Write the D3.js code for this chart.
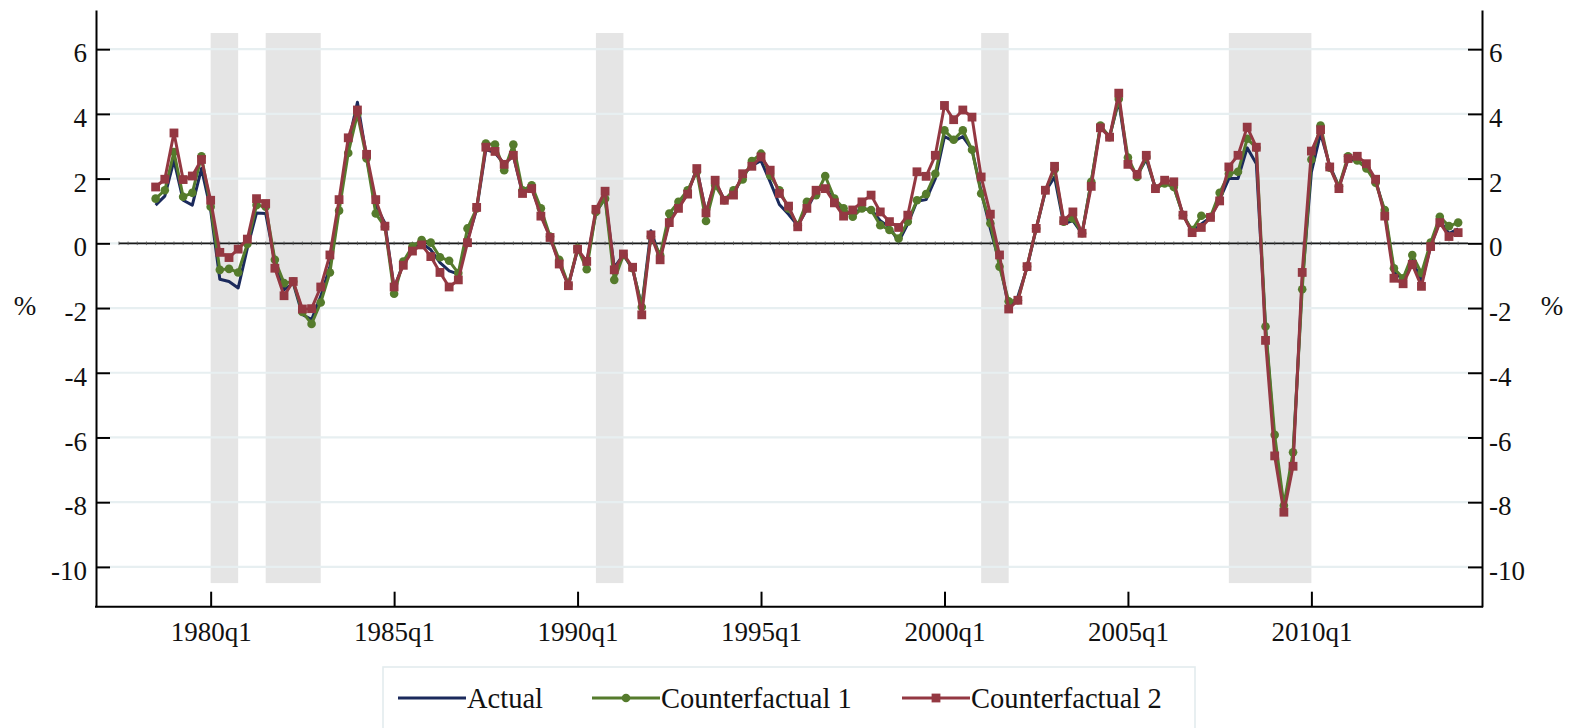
<!DOCTYPE html>
<html>
<head>
<meta charset="utf-8">
<script src="https://cdn.jsdelivr.net/npm/d3@7"></script>
<style>
  html, body { margin: 0; padding: 0; background: #ffffff; }
  svg { display: block; }
  text { font-family: "Liberation Serif", "DejaVu Serif", serif; fill: #111; }
</style>
</head>
<body>
<svg id="chart" width="1575" height="728"></svg>
<script>
// ---------------- DATA ----------------
const startQuarter = "1978q3";

const actual = [
  1.18, 1.46, 2.56, 1.33, 1.18, 2.31, 1.03, -1.11, -1.18, -1.38,
  -0.15, 0.94, 0.92, -0.56, -1.44, -1.23, -2.20, -2.36, -1.64, -0.72,
  1.13, 3.08, 4.36, 2.65, 1.18, 0.62, -1.40, -0.62, -0.15, 0.00,
  -0.20, -0.60, -0.85, -0.95, 0.10, 1.05, 2.90, 2.80, 2.45, 2.70,
  1.55, 1.70, 0.90, 0.20, -0.60, -1.30, -0.20, -0.60, 0.95, 1.40,
  -0.75, -0.35, -0.80, -1.95, 0.39, -0.45, 0.70, 1.10, 1.55, 2.30,
  0.95, 1.90, 1.35, 1.50, 2.10, 2.40, 2.55, 1.90, 1.20, 0.90,
  0.55, 1.05, 1.60, 1.75, 1.30, 0.90, 0.95, 1.05, 1.05, 0.70,
  0.50, 0.05, 0.60, 1.30, 1.35, 2.00, 3.30, 3.15, 3.30, 2.90,
  1.60, 0.45, -0.60, -1.95, -1.65, -0.75, 0.45, 1.60, 2.05, 0.60,
  0.70, 0.30, 1.90, 3.60, 3.30, 4.40, 2.50, 2.10, 2.60, 1.70,
  1.85, 1.75, 0.90, 0.35, 0.60, 0.80, 1.35, 2.00, 2.00, 2.95,
  2.46, -2.60, -6.20, -8.20, -6.60, -1.20, 2.20, 3.40, 2.40, 1.75,
  2.60, 2.55, 2.35, 1.95, 0.95, -0.90, -1.10, -0.50, -1.20, -0.10,
  0.70, 0.30, 0.45
];

const counterfactual1 = [
  1.38, 1.64, 2.82, 1.44, 1.56, 2.69, 1.13, -0.82, -0.79, -0.90,
  -0.02, 1.18, 1.13, -0.51, -1.23, -1.18, -2.12, -2.49, -1.83, -0.90,
  1.01, 2.79, 4.00, 2.62, 0.92, 0.51, -1.56, -0.56, -0.10, 0.10,
  0.02, -0.43, -0.54, -0.92, 0.46, 1.08, 3.08, 3.05, 2.26, 3.05,
  1.64, 1.79, 1.08, 0.21, -0.51, -1.28, -0.15, -0.80, 0.97, 1.38,
  -1.13, -0.36, -0.77, -1.97, 0.21, -0.36, 0.92, 1.28, 1.64, 2.21,
  0.69, 1.79, 1.33, 1.64, 1.97, 2.54, 2.77, 2.10, 1.64, 1.08,
  0.56, 1.28, 1.49, 2.08, 1.38, 1.08, 0.82, 1.08, 1.03, 0.56,
  0.41, 0.15, 0.67, 1.33, 1.52, 2.15, 3.49, 3.20, 3.49, 2.89,
  1.54, 0.62, -0.72, -1.79, -1.76, -0.72, 0.46, 1.64, 2.28, 0.67,
  0.77, 0.31, 1.90, 3.64, 3.28, 4.46, 2.65, 2.05, 2.67, 1.69,
  1.85, 1.74, 0.87, 0.41, 0.85, 0.82, 1.56, 2.15, 2.21, 3.23,
  2.95, -2.57, -5.92, -8.10, -6.46, -1.42, 2.59, 3.64, 2.34, 1.76,
  2.69, 2.56, 2.31, 1.87, 1.03, -0.77, -1.08, -0.36, -0.92, 0.02,
  0.82, 0.53, 0.64
];

const counterfactual2 = [
  1.74, 1.98, 3.41, 1.97, 2.08, 2.59, 1.33, -0.28, -0.44, -0.18,
  0.13, 1.38, 1.23, -0.77, -1.62, -1.18, -2.03, -2.02, -1.35, -0.36,
  1.35, 3.26, 4.12, 2.75, 1.35, 0.53, -1.35, -0.68, -0.24, -0.05,
  -0.41, -0.90, -1.35, -1.13, 0.02, 1.11, 2.97, 2.84, 2.44, 2.72,
  1.54, 1.69, 0.84, 0.18, -0.64, -1.31, -0.18, -0.56, 1.05, 1.61,
  -0.82, -0.33, -0.74, -2.21, 0.26, -0.51, 0.64, 1.08, 1.52, 2.31,
  0.94, 1.95, 1.33, 1.49, 2.15, 2.38, 2.67, 2.26, 1.54, 1.15,
  0.51, 1.08, 1.64, 1.69, 1.25, 0.84, 1.03, 1.28, 1.49, 0.97,
  0.67, 0.49, 0.87, 2.21, 2.07, 2.72, 4.26, 3.82, 4.12, 3.90,
  2.05, 0.90, -0.36, -2.03, -1.76, -0.72, 0.46, 1.64, 2.38, 0.70,
  0.97, 0.31, 1.76, 3.57, 3.28, 4.64, 2.44, 2.13, 2.72, 1.69,
  1.95, 1.90, 0.87, 0.33, 0.49, 0.80, 1.31, 2.36, 2.72, 3.59,
  2.97, -3.00, -6.57, -8.31, -6.89, -0.90, 2.85, 3.51, 2.36, 1.69,
  2.62, 2.69, 2.46, 1.98, 0.84, -1.08, -1.25, -0.65, -1.33, -0.10,
  0.64, 0.21, 0.33
];

const recessions = [
  ["1980q1", "1980q4"],
  ["1981q3", "1983q1"],
  ["1990q3", "1991q2"],
  ["2001q1", "2001q4"],
  ["2007q4", "2010q1"]
];

const xTickLabels = ["1980q1", "1985q1", "1990q1", "1995q1", "2000q1", "2005q1", "2010q1"];
const yTickValues = [-10, -8, -6, -4, -2, 0, 2, 4, 6];
const zeroLineRange = ["1977q3", "2014q1"];

const seriesNames = ["Actual", "Counterfactual 1", "Counterfactual 2"];
const seriesColors = ["#1b2a5c", "#557b2c", "#943842"];

// ---------------- HELPERS ----------------
function qIndex(s) {
  const [y, q] = s.split("q");
  return (+y) * 4 + (+q - 1);
}
const q0 = qIndex(startQuarter);
const idx = actual.map((d, i) => q0 + i);

// ---------------- SCALES ----------------
const svg = d3.select("#chart");
const x = d3.scaleLinear()
  .domain([qIndex("1980q1") - 12.5, qIndex("2010q1") + 18.6])
  .range([96, 1482]);
const y = d3.scaleLinear()
  .domain([-11.23, 7.21])
  .range([606.7, 10]);

// ---------------- SHADING ----------------
svg.append("g").selectAll("rect")
  .data(recessions)
  .join("rect")
  .attr("x", d => x(qIndex(d[0])))
  .attr("width", d => x(qIndex(d[1])) - x(qIndex(d[0])))
  .attr("y", y(6.5))
  .attr("height", y(-10.5) - y(6.5))
  .attr("fill", "#e5e5e5");

// ---------------- GRID ----------------
svg.append("g").selectAll("line")
  .data(yTickValues)
  .join("line")
  .attr("x1", 110).attr("x2", 1468)
  .attr("y1", d => y(d)).attr("y2", d => y(d))
  .attr("stroke", "#e7eff1")
  .attr("stroke-width", 2.2);

// ---------------- ZERO LINE ----------------
const zStart = qIndex(zeroLineRange[0]), zEnd = qIndex(zeroLineRange[1]);
svg.append("line")
  .attr("x1", x(zStart)).attr("x2", 1468)
  .attr("y1", y(0)).attr("y2", y(0))
  .attr("stroke", "#1a1a1a").attr("stroke-width", 1.8);
svg.append("g").selectAll("line")
  .data(d3.range(zStart, zEnd + 1))
  .join("line")
  .attr("x1", d => x(d)).attr("x2", d => x(d))
  .attr("y1", y(0) - 1.8).attr("y2", y(0) + 1.8)
  .attr("stroke", "#555").attr("stroke-width", 0.8);

// ---------------- AXES ----------------
const yAxisL = d3.axisLeft(y).tickValues(yTickValues).tickSize(-14).tickSizeOuter(0).tickPadding(9)
  .tickFormat(d => d3.format("d")(d).replace("−", "-"));
const gL = svg.append("g").attr("transform", "translate(96,0)").call(yAxisL);
const yAxisR = d3.axisRight(y).tickValues(yTickValues).tickSize(-14).tickSizeOuter(0).tickPadding(7)
  .tickFormat(d => d3.format("d")(d).replace("−", "-"));
const gR = svg.append("g").attr("transform", "translate(1482,0)").call(yAxisR);
const xAxis = d3.axisBottom(x).tickValues(xTickLabels.map(qIndex)).tickSize(-15).tickSizeOuter(0).tickPadding(15)
  .tickFormat((d, i) => xTickLabels[i]);
const gB = svg.append("g").attr("transform", "translate(0,606.7)").call(xAxis);

[gL, gR, gB].forEach(g => {
  g.select(".domain").attr("stroke", "#000").attr("stroke-width", 2);
  g.selectAll(".tick line").attr("stroke", "#000").attr("stroke-width", 2);
  g.selectAll(".tick text")
    .attr("font-family", "'Liberation Serif', serif")
    .attr("font-size", 27)
    .attr("fill", "#111");
});
gL.selectAll(".tick text").attr("y", 4);
gR.selectAll(".tick text").attr("y", 4);
gB.select(".domain").attr("d", "M95,0H1483");

// y axis titles
svg.append("text").attr("x", 25).attr("y", 306).attr("text-anchor", "middle")
  .attr("dominant-baseline", "central").attr("font-size", 27).text("%");
svg.append("text").attr("x", 1552).attr("y", 306).attr("text-anchor", "middle")
  .attr("dominant-baseline", "central").attr("font-size", 27).text("%");

// ---------------- SERIES ----------------
const line = d3.line().x((d, i) => x(idx[i])).y(d => y(d));
const allSeries = [actual, counterfactual1, counterfactual2];

allSeries.forEach((s, k) => {
  svg.append("path")
    .datum(s)
    .attr("d", line)
    .attr("fill", "none")
    .attr("stroke", seriesColors[k])
    .attr("stroke-width", 3)
    .attr("stroke-linejoin", "round");
  if (k === 1) {
    svg.append("g").selectAll("circle")
      .data(s).join("circle")
      .attr("cx", (d, i) => x(idx[i])).attr("cy", d => y(d))
      .attr("r", 4.3).attr("fill", seriesColors[k]);
  }
  if (k === 2) {
    svg.append("g").selectAll("rect")
      .data(s).join("rect")
      .attr("x", (d, i) => x(idx[i]) - 4.4).attr("y", d => y(d) - 4.4)
      .attr("width", 8.8).attr("height", 8.8).attr("fill", seriesColors[k]);
  }
});

// ---------------- LEGEND ----------------
const lg = svg.append("g");
lg.append("rect").attr("x", 383).attr("y", 667).attr("width", 812).attr("height", 90)
  .attr("fill", "#fff").attr("stroke", "#e3ecee").attr("stroke-width", 1.6);
const legendX = [398, 592, 902];
const legendLen = 68;
seriesNames.forEach((name, k) => {
  const lx = legendX[k];
  lg.append("line").attr("x1", lx).attr("x2", lx + legendLen).attr("y1", 698).attr("y2", 698)
    .attr("stroke", seriesColors[k]).attr("stroke-width", 3);
  if (k === 1) lg.append("circle").attr("cx", lx + legendLen / 2).attr("cy", 698).attr("r", 4.3).attr("fill", seriesColors[k]);
  if (k === 2) lg.append("rect").attr("x", lx + legendLen / 2 - 4.4).attr("y", 698 - 4.4).attr("width", 8.8).attr("height", 8.8).attr("fill", seriesColors[k]);
  lg.append("text").attr("x", lx + legendLen + 1).attr("y", 708).attr("font-size", 28.5).text(name);
});
</script>
</body>
</html>
